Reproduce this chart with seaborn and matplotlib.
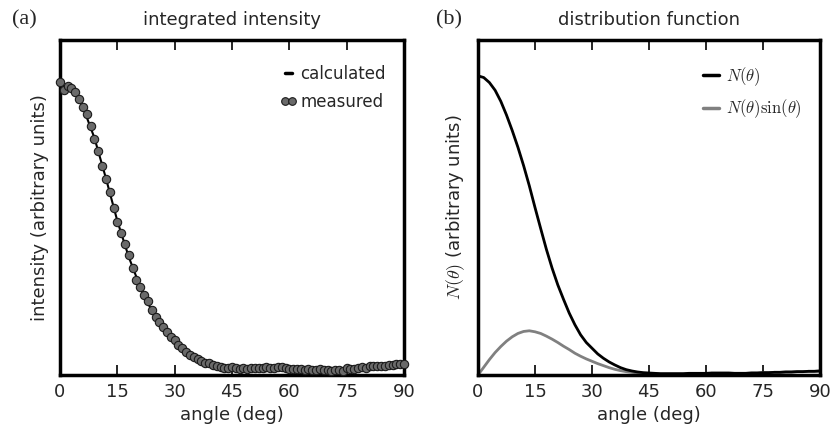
import numpy as np
import pandas as pd
import matplotlib
matplotlib.use("Agg")
import matplotlib.pyplot as plt
from matplotlib.lines import Line2D
import seaborn as sns

# ---- data ----
meas_angle = list(range(0, 91))
meas_int = [0.875, 0.852, 0.862, 0.858, 0.845, 0.825, 0.800, 0.780, 0.742, 0.705,
            0.668, 0.625, 0.585, 0.545, 0.500, 0.456, 0.425, 0.390, 0.358, 0.320,
            0.285, 0.262, 0.240, 0.222, 0.195, 0.172, 0.158, 0.142, 0.128, 0.112,
            0.104, 0.090, 0.080, 0.070, 0.060, 0.054, 0.048, 0.042, 0.037, 0.035,
            0.030, 0.026, 0.024, 0.022, 0.021, 0.023, 0.020, 0.019, 0.020, 0.019,
            0.021, 0.020, 0.022, 0.021, 0.024, 0.022, 0.020, 0.023, 0.024, 0.020,
            0.018, 0.019, 0.017, 0.018, 0.016, 0.017, 0.015, 0.016, 0.018, 0.014,
            0.015, 0.013, 0.014, 0.016, 0.013, 0.020, 0.018, 0.019, 0.021, 0.024,
            0.022, 0.026, 0.028, 0.027, 0.028, 0.026, 0.030, 0.031, 0.032, 0.033,
            0.034]

calc_angle = list(range(0, 91, 3))
calc_int = [0.866, 0.858, 0.800, 0.708, 0.588, 0.460, 0.352, 0.262, 0.192, 0.140,
            0.100, 0.070, 0.048, 0.034, 0.025, 0.021, 0.020, 0.020, 0.021, 0.021,
            0.019, 0.017, 0.016, 0.015, 0.015, 0.017, 0.020, 0.024, 0.027, 0.030,
            0.033]

dist_angle = [i * 1.5 for i in range(61)]
N_theta = [0.893, 0.888, 0.873, 0.850, 0.817, 0.776, 0.730, 0.680, 0.625, 0.565,
           0.500, 0.437, 0.375, 0.319, 0.269, 0.226, 0.185, 0.150, 0.120, 0.097,
           0.080, 0.063, 0.050, 0.039, 0.030, 0.022, 0.016, 0.012, 0.009, 0.007,
           0.006, 0.005, 0.004, 0.004, 0.004, 0.004, 0.004, 0.005, 0.005, 0.005,
           0.005, 0.006, 0.006, 0.006, 0.006, 0.005, 0.005, 0.005, 0.006, 0.006,
           0.007, 0.007, 0.008, 0.008, 0.009, 0.009, 0.010, 0.010, 0.011, 0.011,
           0.012]
N_sin = [0.000, 0.023, 0.046, 0.067, 0.085, 0.101, 0.114, 0.124, 0.130, 0.132,
         0.129, 0.124, 0.116, 0.107, 0.097, 0.086, 0.076, 0.065, 0.056, 0.048,
         0.041, 0.034, 0.028, 0.022, 0.017, 0.013, 0.010, 0.008, 0.006, 0.005,
         0.004, 0.004, 0.003, 0.003, 0.003, 0.003, 0.003, 0.004, 0.004, 0.004,
         0.004, 0.005, 0.005, 0.005, 0.005, 0.005, 0.005, 0.005, 0.006, 0.006,
         0.007, 0.007, 0.008, 0.008, 0.009, 0.009, 0.010, 0.010, 0.011, 0.011,
         0.012]

xticks = [0, 15, 30, 45, 60, 75, 90]

sns.set_style("white")
plt.rcParams['font.family'] = ['DejaVu Sans']
plt.rcParams['mathtext.fontset'] = 'cm'

fig = plt.figure(figsize=(8.32, 4.26), dpi=100)
axL = fig.add_axes([60/832, 51/426, 344/832, 335/426])
axR = fig.add_axes([478/832, 51/426, 342/832, 335/426])

meas_df = pd.DataFrame({"angle": meas_angle, "intensity": meas_int})
calc_df = pd.DataFrame({"angle": calc_angle, "intensity": calc_int})
dist_df = pd.DataFrame({"angle": dist_angle, "N": N_theta, "Nsin": N_sin})

sns.lineplot(data=calc_df, x="angle", y="intensity", ax=axL, color="black", lw=1.5, zorder=2)
sns.scatterplot(data=meas_df, x="angle", y="intensity", ax=axL, color="#6a6a6a",
                edgecolor="#1a1a1a", linewidth=0.8, s=36, zorder=3, clip_on=False)

sns.lineplot(data=dist_df, x="angle", y="Nsin", ax=axR, color="#808080", lw=2, zorder=2)
sns.lineplot(data=dist_df, x="angle", y="N", ax=axR, color="black", lw=2, zorder=3)

for ax in (axL, axR):
    ax.set_xlim(0, 90)
    ax.set_ylim(0, 1)
    ax.set_xticks(xticks)
    ax.set_xticklabels([str(t) for t in xticks], fontsize=13)
    ax.set_yticks([])
    ax.tick_params(axis='x', direction='in', length=7, width=1.2, top=True, bottom=True,
                   pad=6, color='black')
    for sp in ax.spines.values():
        sp.set_linewidth(2.5)
        sp.set_color('black')
        sp.set_visible(True)
    ax.set_xlabel("angle (deg)", fontsize=13, labelpad=3)

axL.set_ylabel("intensity (arbitrary units)", fontsize=13, labelpad=8)
axR.set_ylabel(r"$N(\theta)$ (arbitrary units)", fontsize=13, labelpad=8)
axL.set_title("integrated intensity", fontsize=13, pad=11)
axR.set_title("distribution function", fontsize=13, pad=11)

fig.text(12/832, 1 - 20/426, "(a)", fontsize=16, family=['Liberation Serif', 'DejaVu Serif'],
         va='center', ha='left')
fig.text(436/832, 1 - 20/426, "(b)", fontsize=16, family=['Liberation Serif', 'DejaVu Serif'],
         va='center', ha='left')

hL = [Line2D([], [], color='black', lw=2.5),
      Line2D([], [], color='#6a6a6a', marker='o', ls='none', markersize=5.5,
             markeredgecolor='#1a1a1a', markeredgewidth=0.8)]
axL.legend(hL, ["calculated", "measured"], loc='upper right', frameon=False, fontsize=12,
           handlelength=1.0, handletextpad=0.2, numpoints=2, labelspacing=0.6,
           bbox_to_anchor=(0.99, 0.97))

hR = [Line2D([], [], color='black', lw=2.5), Line2D([], [], color='#808080', lw=2.5)]
axR.legend(hR, [r"$N(\theta)$", r"$N(\theta)\sin(\theta)$"], loc='upper right', frameon=False,
           fontsize=12, handlelength=1.0, handletextpad=0.4, labelspacing=0.6,
           bbox_to_anchor=(0.99, 0.97))

fig.savefig("out.png", dpi=100)
